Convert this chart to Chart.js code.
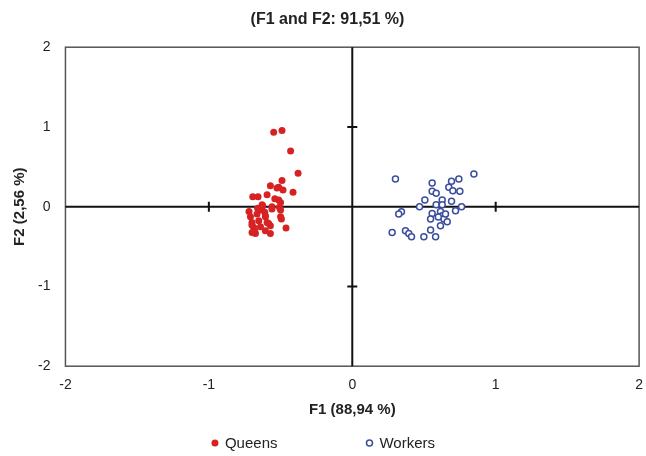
<!DOCTYPE html>
<html>
<head>
<meta charset="utf-8">
<script src="https://cdn.jsdelivr.net/npm/chart.js@4"></script>
<style>
  html, body { margin: 0; padding: 0; background: #fff; }
  #wrap { width: 646px; height: 456px; }
</style>
</head>
<body>
<div id="wrap"><canvas id="pca"></canvas></div>
<script>
// PCA scores
var queensF1 = [-0.548, -0.49, -0.43, -0.378, -0.49, -0.571, -0.525, -0.483, -0.413, -0.694,
  -0.657, -0.594, -0.513, -0.5, -0.629, -0.56, -0.5, -0.629, -0.71, -0.664,
  -0.606, -0.5, -0.699, -0.652, -0.594, -0.687, -0.64, -0.571, -0.675, -0.571,
  -0.462, -0.494, -0.72, -0.68, -0.61, -0.54, -0.7, -0.66,
  -0.625, -0.56, -0.508, -0.606, -0.583, -0.606, -0.699, -0.513];
var queensF2 = [0.935, 0.956, 0.70, 0.42, 0.33, 0.264, 0.235, 0.21, 0.18, 0.126,
  0.126, 0.151, 0.084, 0.054, 0.025, -0.03, -0.04, -0.04, -0.126, -0.09,
  -0.126, -0.126, -0.197, -0.176, -0.197, -0.26, -0.25, -0.239, -0.335, -0.335,
  -0.268, -0.155, -0.06, -0.3, -0.07, 0.1, -0.23, -0.02,
  0.013, 0, -0.008, -0.113, -0.21, -0.302, -0.323, 0.243];
var workersF1 = [0.301, 0.848, 0.743, 0.692, 0.557, 0.673, 0.701, 0.75, 0.557, 0.585,
  0.506, 0.627, 0.692, 0.585, 0.627, 0.469, 0.762, 0.72, 0.343, 0.324,
  0.557, 0.615, 0.627, 0.546, 0.639, 0.662, 0.615, 0.546, 0.278, 0.371,
  0.394, 0.413, 0.499, 0.581, 0.6, 0.65];
var workersF2 = [0.348, 0.41, 0.348, 0.318, 0.298, 0.243, 0.201, 0.193, 0.193, 0.168,
  0.084, 0.084, 0.067, 0.025, 0.025, 0, 0, -0.05, -0.063, -0.092,
  -0.084, -0.059, -0.113, -0.155, -0.155, -0.189, -0.239, -0.293, -0.323, -0.302,
  -0.335, -0.377, -0.377, -0.377, -0.13, -0.09];
var axisTicks = [-2, -1, 0, 1, 2];

var RED = '#d62222';
var BLUE = '#3b4e9e';
var FONT = '"Liberation Sans", Arial, sans-serif';

function toPoints(xs, ys) {
  var pts = [];
  for (let i = 0; i < xs.length; i++) {
    pts.push({ x: xs[i], y: ys[i] });
  }
  return pts;
}

// box round the plot, cross through the origin with small ticks at +-1
var crossAxes = {
  id: 'crossAxes',
  beforeDatasetsDraw: function(chart) {
    var c = chart.ctx, a = chart.chartArea;
    var sx = chart.scales.x, sy = chart.scales.y;
    var x0 = sx.getPixelForValue(0), y0 = sy.getPixelForValue(0);
    c.save();
    c.strokeStyle = '#555';
    c.lineWidth = 1.5;
    c.strokeRect(a.left, a.top, a.right - a.left, a.bottom - a.top);
    c.strokeStyle = '#111';
    c.lineWidth = 2;
    c.beginPath();
    c.moveTo(a.left, y0); c.lineTo(a.right, y0);
    c.moveTo(x0, a.top); c.lineTo(x0, a.bottom);
    [-1, 1].forEach(function(v) {
      var px = sx.getPixelForValue(v), py = sy.getPixelForValue(v);
      c.moveTo(px, y0 - 5); c.lineTo(px, y0 + 5);
      c.moveTo(x0 - 5, py); c.lineTo(x0 + 5, py);
    });
    c.stroke();
    c.restore();
  }
};

// legend with a wide gap between the two entries, like the original
var wideLegend = {
  id: 'wideLegend',
  afterDraw: function(chart) {
    var c = chart.ctx;
    var y = chart.height - 13;
    var gap = 88;
    c.save();
    c.font = '15px ' + FONT;
    c.textBaseline = 'middle';
    var items = chart.data.datasets.map(function(ds) {
      return { ds: ds, w: 14 + c.measureText(ds.label).width };
    });
    var total = items[0].w + gap + items[1].w;
    var x = chart.width / 2 - total / 2;
    items.forEach(function(it) {
      c.beginPath();
      c.arc(x + 4, y, it.ds.pointRadius, 0, Math.PI * 2);
      c.fillStyle = it.ds.pointBackgroundColor;
      c.fill();
      if (it.ds.pointBorderWidth) {
        c.lineWidth = it.ds.pointBorderWidth;
        c.strokeStyle = it.ds.pointBorderColor;
        c.stroke();
      }
      c.fillStyle = '#222';
      c.fillText(it.ds.label, x + 14, y + 1);
      x += it.w + gap;
    });
    c.restore();
  }
};

Chart.defaults.font.family = FONT;
Chart.defaults.color = '#222';

new Chart(document.getElementById('pca'), {
  type: 'scatter',
  data: {
    datasets: [{
      label: 'Queens',
      data: toPoints(queensF1, queensF2),
      pointRadius: 3.5,
      pointBackgroundColor: RED,
      pointBorderColor: RED,
      pointBorderWidth: 0,
      backgroundColor: RED,
      borderColor: RED
    }, {
      label: 'Workers',
      data: toPoints(workersF1, workersF2),
      pointRadius: 3,
      pointBackgroundColor: '#ffffff',
      pointBorderColor: BLUE,
      pointBorderWidth: 1.5,
      backgroundColor: '#ffffff',
      borderColor: BLUE
    }]
  },
  options: {
    responsive: true,
    maintainAspectRatio: false,
    animation: false,
    layout: { padding: { left: 11, right: 2, top: 0, bottom: 37 } },
    plugins: {
      title: {
        display: true,
        text: '(F1 and F2: 91,51 %)',
        font: { size: 16, weight: 'bold' },
        padding: { top: 10, bottom: 18 }
      },
      legend: { display: false },
      tooltip: { enabled: false }
    },
    scales: {
      x: {
        min: -2, max: 2,
        afterBuildTicks: function(s) { s.ticks = axisTicks.map(function(v) { return { value: v }; }); },
        grid: { display: false },
        border: { display: false },
        ticks: { font: { size: 14 }, color: '#222', padding: 3 },
        title: { display: true, text: 'F1 (88,94 %)', font: { size: 15, weight: 'bold' }, padding: { top: 4, bottom: 0 } }
      },
      y: {
        min: -2, max: 2,
        afterBuildTicks: function(s) { s.ticks = axisTicks.map(function(v) { return { value: v }; }); },
        grid: { display: false },
        border: { display: false },
        ticks: { font: { size: 14 }, color: '#222', padding: 7 },
        title: { display: true, text: 'F2 (2,56 %)', font: { size: 15, weight: 'bold' }, padding: { top: 0, bottom: 2 } }
      }
    }
  },
  plugins: [crossAxes, wideLegend]
});
</script>
</body>
</html>
